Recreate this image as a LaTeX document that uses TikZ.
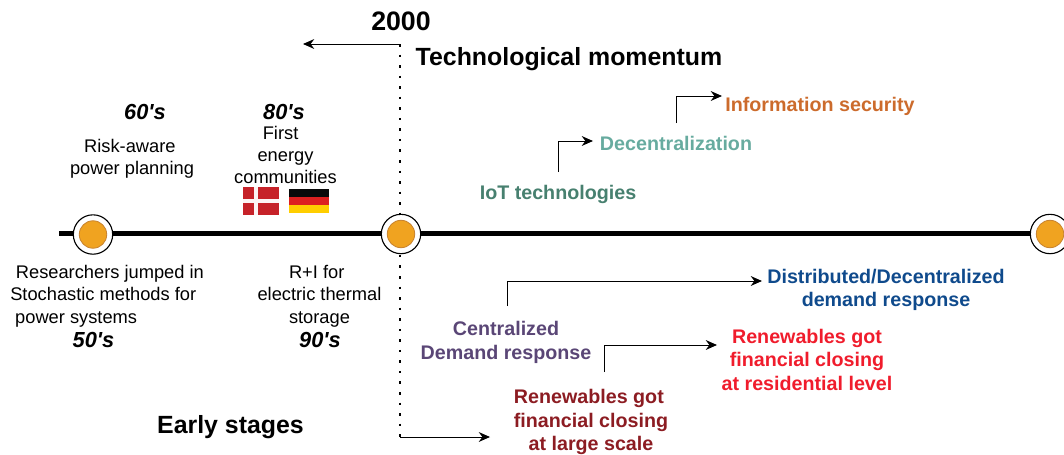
\documentclass[tikz,border=0pt]{standalone}
\usepackage{fontspec}
\setmainfont{Liberation Sans}
\usetikzlibrary{arrows.meta}
\definecolor{dotorange}{HTML}{F0A320}
\definecolor{dotedge}{HTML}{C9842F}
\definecolor{iotgreen}{HTML}{47806F}
\definecolor{decgreen}{HTML}{67AB9F}
\definecolor{secorange}{HTML}{CC6B2C}
\definecolor{distblue}{HTML}{0F4A8C}
\definecolor{cenpurple}{HTML}{5A4676}
\definecolor{darkred}{HTML}{8C1C22}
\definecolor{lightred}{HTML}{F01C2C}
\definecolor{dkred}{HTML}{C62229}
\definecolor{deblack}{HTML}{0A0A0A}
\definecolor{dered}{HTML}{DD2020}
\definecolor{deyellow}{HTML}{FFCE00}
\tikzset{
	plain/.style={align=center,font=\fontsize{13}{15.9}\selectfont,inner sep=0pt},
	decade/.style={font=\fontsize{15.5}{16}\selectfont\bfseries\itshape,inner sep=0pt},
	heading/.style={font=\fontsize{17.7}{20}\selectfont\bfseries,inner sep=0pt},
	topic/.style={align=center,font=\fontsize{14}{16.7}\selectfont\bfseries,inner sep=0pt},
	elbow/.style={-{Stealth[length=8pt,width=7pt]},line width=0.7pt},
	ring/.style={circle,draw,fill=white,line width=0.8pt,minimum size=28pt,inner sep=0pt},
	dot/.style={circle,draw=dotedge,fill=dotorange,line width=0.6pt,minimum size=19.5pt,inner sep=0pt}
}
\begin{document}
\begin{tikzpicture}[x=0.025cm,y=-0.025cm]
	\useasboundingbox (0,0) rectangle (1064,454);
	%%%%% TIMELINE %%%%%
	\coordinate (linestart) at (59,233.7);
	\coordinate (lineend) at (1064,233.7);
	\draw[line width=3.5pt] (linestart) -- (lineend);

	\coordinate (splittop) at (400,44);
	\coordinate (splitbot) at (400,437);
	\draw[line width=1.8pt,dash pattern=on 1.8pt off 5.7pt] (splittop) -- (splitbot);

	\node[ring] (ringa) at (93,234.5) {};
	\node[ring] (ringb) at (401,234) {};
	\node[ring] (ringc) at (1050,234) {};
	\node[dot] at (ringa) (dota) {};
	\node[dot] at (ringb) (dotb) {};
	\node[dot] at (ringc) (dotc) {};

	%%%%% HEADINGS %%%%%
	\node[heading,font=\fontsize{19}{20}\selectfont\bfseries] (year) at (401,21) {2000};
	\node[heading] (techmom) at (569,59.5) {Technological momentum};
	\node[heading] (early) at (230.5,427) {Early stages};
	\coordinate (pastend) at (303,44);
	\draw[elbow] (splittop) -- (pastend);

	%%%%% EARLY STAGES %%%%%
	\node[decade] (sixties) at (145,112) {60\textquotesingle s};
	\node[plain] (risk) at (132,159) {Risk-aware\hspace*{3pt}\\power planning};
	\node[decade] (eighties) at (284,112) {80\textquotesingle s};
	\node[plain] (first) at (285.5,155) {First\hspace*{7pt}\\energy\hspace*{3.5pt}\\communities};
	\node[plain,align=left,anchor=west] (research) at (10,296) {\hspace*{4pt}Researchers jumped in\\Stochastic methods for\\\hspace*{3.5pt}power systems};
	\node[decade] (fifties) at (93.5,339.5) {50\textquotesingle s};
	\node[plain] (rdi) at (319.5,296) {R+I for\hspace*{4pt}\\electric thermal\\storage};
	\node[decade] (nineties) at (320,339.5) {90\textquotesingle s};

	%%%%% FLAGS %%%%%
	\fill[dkred] (243,187) rectangle (279,215);
	\fill[white!95!dkred] (254.2,187) rectangle (258.4,215);
	\fill[white!95!dkred] (243,198.5) rectangle (279,202.7);
	\fill[deblack] (289,189) rectangle (329,197);
	\fill[dered] (289,197) rectangle (329,205);
	\fill[deyellow] (289,205) rectangle (329,213);

	%%%%% TECHNOLOGICAL MOMENTUM %%%%%
	\node[topic,text=iotgreen] (iot) at (558,194.5) {IoT technologies};
	\node[topic,text=decgreen] (decen) at (676,143) {Decentralization};
	\node[topic,text=secorange] (infosec) at (820,106.5) {Information security};
	\coordinate (iotup) at (558,172);
	\coordinate (decenup) at (676,123);
	\coordinate (decenend) at (593,141);
	\coordinate (secend) at (722,96);
	\draw[elbow] (iotup) |- (decenend);
	\draw[elbow] (decenup) |- (secend);

	\node[topic,text=cenpurple] (central) at (506,342.5) {Centralized\\Demand response};
	\node[topic,text=distblue] (distrib) at (886,290) {Distributed/Decentralized\\demand response};
	\node[topic,text=lightred] (resid) at (807,359.5) {Renewables got\\financial closing\\at residential level};
	\node[topic,text=darkred] (large) at (591,422) {Renewables got\hspace*{3pt}\\financial closing\\at large scale};
	\coordinate (centup) at (507,306);
	\coordinate (distend) at (762,281);
	\coordinate (centdown) at (604,372);
	\coordinate (residend) at (717,345);
	\coordinate (largeend) at (490,437);
	\draw[elbow] (centup) |- (distend);
	\draw[elbow] (centdown) |- (residend);
	\draw[elbow] (splitbot) -- (largeend);
\end{tikzpicture}
\end{document}
